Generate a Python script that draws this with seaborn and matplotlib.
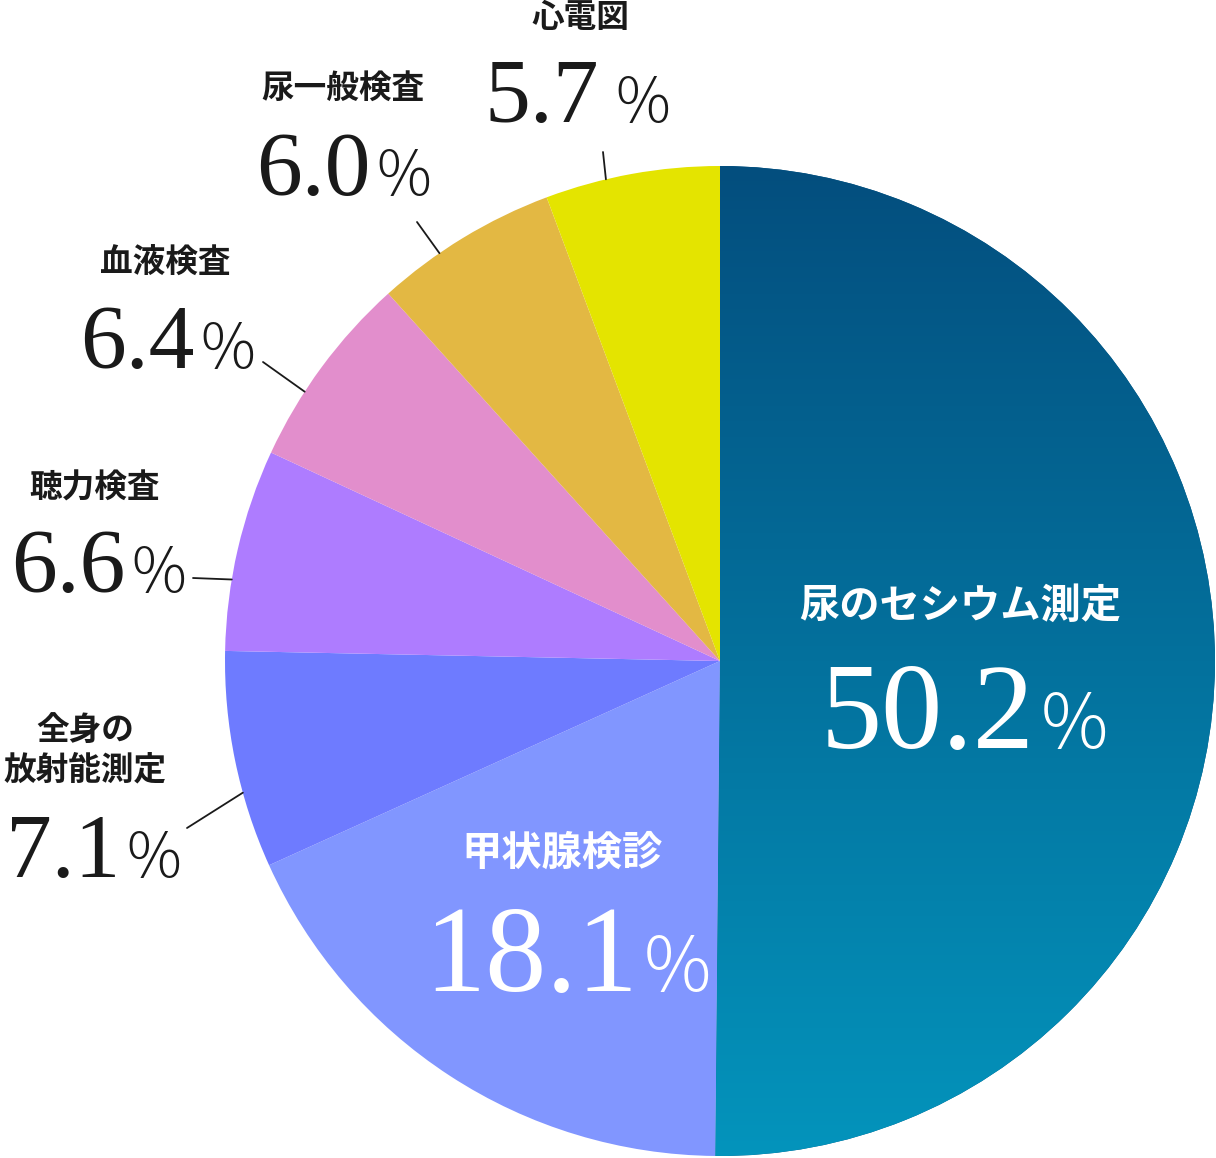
import numpy as np
import matplotlib
matplotlib.use('Agg')
import matplotlib.pyplot as plt
from matplotlib.colors import LinearSegmentedColormap
import seaborn as sns

sns.set_theme(style='white')
plt.rcParams['font.family'] = ['Noto Sans CJK JP', 'DejaVu Sans']

# data, clockwise from 12 o'clock
labels = ['尿のセシウム測定', '甲状腺検診', '全身の\n放射能測定', '聴力検査', '血液検査', '尿一般検査', '心電図']
values = [50.2, 18.1, 7.1, 6.6, 6.4, 6.0, 5.7]
colors = ['#045584', '#8196FF', '#6E7BFF', '#AE7CFF', '#E28ECC', '#E3B843', '#E4E400']
grad_top, grad_bottom = '#034E7E', '#0494BC'

# canvas in pixels, y down
W, H = 1216, 1158
CX, CY, R = 720, 661, 495

# label layout (pixel positions)
label_xy = [(960, 606), (562, 853), (85, 750), (95, 488), (165, 263), (343, 88), (580, 17)]
num_xy = [(928, 748), (531, 991), (63, 877), (68, 592), (137, 368), (313, 195), (542, 122)]
pct_x = [1040, 630, 115, 130, 200, 375, 615]
leader_end = [None, None, (187, 828), (193, 578), (263, 362), (417, 222), (603, 152)]
leader_frac = 0.35  # where along the slice the leader touches the rim
inside = [True, True, False, False, False, False, False]

fig = plt.figure(figsize=(W / 100, H / 100), dpi=100)
ax = fig.add_axes([0, 0, 1, 1])

wedges, _ = ax.pie(values, colors=colors, startangle=-90, counterclock=True,
                   center=(CX, CY), radius=R, wedgeprops=dict(linewidth=0))

# vertical gradient on the big slice
grad = np.linspace(0, 1, 256).reshape(-1, 1)
cmap = LinearSegmentedColormap.from_list('g', [grad_top, grad_bottom])
im = ax.imshow(grad, cmap=cmap, extent=(CX - R, CX + R, CY + R, CY - R),
               aspect='auto', origin='upper', zorder=wedges[0].get_zorder() + 0.5)
im.set_clip_path(wedges[0])

ax.set_xlim(0, W)
ax.set_ylim(H, 0)
ax.set_aspect('equal')
ax.axis('off')

fig.canvas.draw()
renderer = fig.canvas.get_renderer()

for i, w in enumerate(wedges):
    col = 'white' if inside[i] else '#1a1a1a'
    big = inside[i]
    lx, ly = label_xy[i]
    ax.text(lx, ly, labels[i], ha='center', va='center', color=col,
            fontsize=29 if big else 23.5, fontweight='bold', linespacing=1.25, zorder=5)
    nx, ny = num_xy[i]
    t = ax.text(nx, ny, f'{values[i]:.1f}', ha='center', va='baseline', color=col,
                fontsize=88 if big else 66, family='Liberation Serif', zorder=5)
    # keep the % clear of the number
    bb = t.get_window_extent(renderer)
    right = ax.transData.inverted().transform((bb.x1, bb.y0))[0]
    px = max(pct_x[i], right + 6)
    ax.text(px, ny, '%', ha='left', va='baseline', color=col,
            fontsize=54 if big else 44, fontweight='light', zorder=5)
    if leader_end[i] is not None:
        ang = np.deg2rad(w.theta1 + leader_frac * (w.theta2 - w.theta1))
        x0, y0 = CX + R * np.cos(ang), CY + R * np.sin(ang)
        ex, ey = leader_end[i]
        ax.plot([x0, ex], [y0, ey], color='#1a1a1a', lw=1.3, zorder=4)

fig.savefig('out.png', dpi=100, facecolor='white')
